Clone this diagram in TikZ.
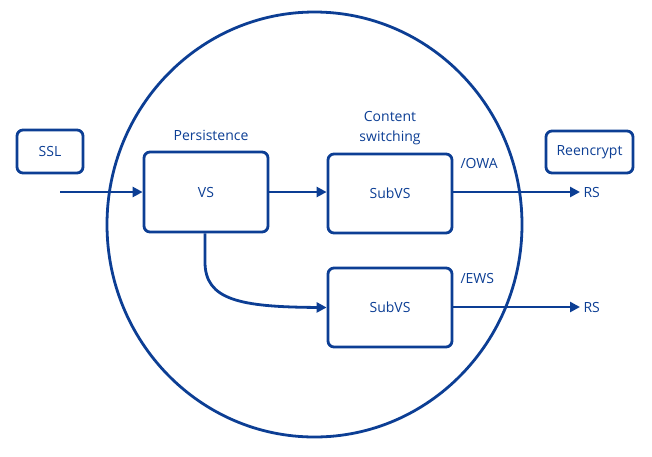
\documentclass[tikz,border=0pt]{standalone}
\usepackage{fontspec}
\setmainfont{Open Sans}
\usetikzlibrary{arrows.meta,shapes.geometric}
\definecolor{dblue}{RGB}{12,62,148}
\begin{document}
\begin{tikzpicture}[x=1pt,y=-1pt,
  every node/.style={text=dblue,font=\fontsize{14}{16}\selectfont},
  box/.style={draw=dblue,line width=2.8pt,rounded corners=6pt,inner sep=0pt},
  conn/.style={draw=dblue,line width=2.8pt,-{Triangle[length=10pt,width=10pt]}}]
\useasboundingbox (0,0) rectangle (652,456);
\node[draw=dblue,line width=2.8pt,ellipse,minimum width=415pt,minimum height=425pt,inner sep=0pt] (circ) at (314.5,224.5) {};
\node[box,minimum width=66pt,minimum height=43pt] (ssl) at (50,151.5) {SSL};
\node[box,minimum width=87pt,minimum height=42pt] (reenc) at (589.5,152) {Reencrypt};
\node[box,minimum width=124pt,minimum height=80pt] (vs) at (206,192) {VS};
\node[box,minimum width=124pt,minimum height=79pt] (sub1) at (390,193.5) {SubVS};
\node[box,minimum width=124pt,minimum height=79pt] (sub2) at (390,307.5) {SubVS};
\node (pers) at (211,135) {Persistence};
\node[align=center,font=\fontsize{14}{20.5}\selectfont] (cs) at (390,128) {Content\\switching};
\node[anchor=west] (owa) at (457,163) {/OWA};
\node[anchor=west] (ews) at (457,278) {/EWS};
\node[anchor=west] (rs1) at (580,192) {RS};
\node[anchor=west] (rs2) at (580,307) {RS};
\coordinate (in) at (60,192);
\draw[conn] (in) -- (vs.west |- in);
\draw[conn] (vs.east |- 0,192) -- (sub1.west |- 0,192);
\draw[conn] (sub1.east |- 0,192) -- (rs1.west);
\draw[conn] (sub2.east |- 0,307) -- (rs2.west);
\draw[conn] (vs.south -| 205,0) -- (205,262) .. controls (205,300) and (240,307) .. (sub2.west);
\end{tikzpicture}
\end{document}
